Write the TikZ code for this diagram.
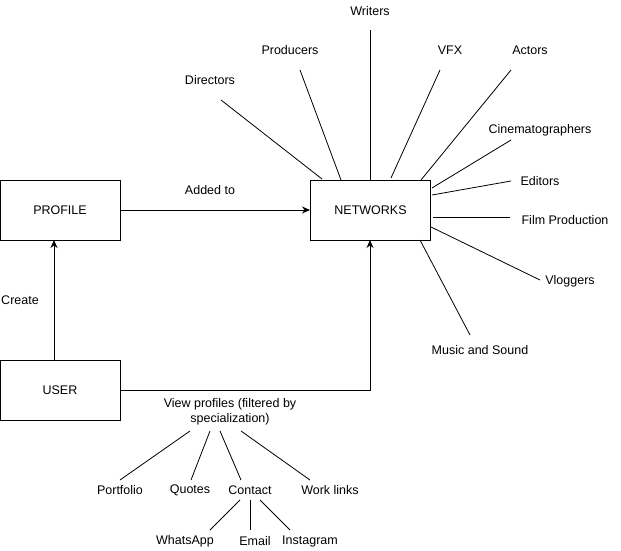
\documentclass[tikz,border=0pt]{standalone}
\usepackage{fontspec}
\setmainfont{Liberation Sans}
\usetikzlibrary{arrows.meta}
\begin{document}
\begin{tikzpicture}[x=1pt,y=-1pt,
  font=\fontsize{12.5}{14.5}\selectfont,
  box/.style={draw,line width=1pt,minimum width=120pt,minimum height=60pt,inner sep=0pt},
  lbl/.style={inner sep=0pt,align=center},
  link/.style={line width=0.8pt},
  flow/.style={line width=1pt,-{Stealth[length=8pt,width=7pt]}}]
\useasboundingbox (0,0) rectangle (621,551);

% main boxes
\node[box] (profile) at (60,210) {PROFILE};
\node[box] (net) at (370.5,210) {NETWORKS};
\node[box] (user) at (60,390) {USER};

% flow between boxes
\coordinate (createS) at (54,360);
\coordinate (createE) at (54,240);
\draw[flow] (createS) -- (createE);
\node[lbl] (create) at (20,300) {Create};

\draw[flow] (profile.east) -- (net.west);
\node[lbl] (added) at (210,190) {Added to};

\coordinate (viewS) at (120,390);
\coordinate (viewE) at (370,240);
\draw[flow] (viewS) -| (viewE);
\node[lbl] (view) at (230,412) {View profiles (filtered by\\specialization)};

% network categories
\node[lbl] (writers) at (370,11) {Writers};
\node[lbl] (producers) at (290,50) {Producers};
\node[lbl] (directors) at (210,80) {Directors};
\node[lbl] (vfx) at (450,50) {VFX};
\node[lbl] (actors) at (530,50) {Actors};
\node[lbl] (cine) at (540,130) {Cinematographers};
\node[lbl] (editors) at (540,181) {Editors};
\node[lbl] (film) at (565,220) {Film Production};
\node[lbl] (vlog) at (570,281) {Vloggers};
\node[lbl] (music) at (480,350) {Music and Sound};

\coordinate (wrA) at (370,180);  \coordinate (wrB) at (370,30);
\coordinate (prA) at (341,180);  \coordinate (prB) at (300,70);
\coordinate (diA) at (322,179);  \coordinate (diB) at (221,100);
\coordinate (vfA) at (391,178);  \coordinate (vfB) at (440,70);
\coordinate (acA) at (421,180);  \coordinate (acB) at (511,70);
\coordinate (ciA) at (432,188);  \coordinate (ciB) at (511,140);
\coordinate (edA) at (432,195);  \coordinate (edB) at (511,181);
\coordinate (fiA) at (433,217);  \coordinate (fiB) at (510,217);
\coordinate (vlA) at (431,227);  \coordinate (vlB) at (540,280);
\coordinate (muA) at (420,240);  \coordinate (muB) at (470,335);
\foreach \s in {wr,pr,di,vf,ac,ci,ed,fi,vl,mu}
  \draw[link] (\s A) -- (\s B);

% profile details
\node[lbl] (portfolio) at (120,490) {Portfolio};
\node[lbl] (quotes) at (190,490) {Quotes};
\node[lbl] (contact) at (250,490) {Contact};
\node[lbl] (work) at (330,490) {Work links};
\node[lbl] (whatsapp) at (185,541) {WhatsApp};
\node[lbl] (email) at (255,541) {Email};
\node[lbl] (insta) at (310,541) {Instagram};

\coordinate (poA) at (190,431); \coordinate (poB) at (120,480);
\coordinate (quA) at (210,431); \coordinate (quB) at (191,480);
\coordinate (coA) at (220,431); \coordinate (coB) at (241,480);
\coordinate (woA) at (241,431); \coordinate (woB) at (310,480);
\coordinate (whA) at (240,500); \coordinate (whB) at (210,530);
\coordinate (emA) at (250,500); \coordinate (emB) at (250,530);
\coordinate (inA) at (260,500); \coordinate (inB) at (290,530);
\foreach \s in {po,qu,co,wo,wh,em,in}
  \draw[link] (\s A) -- (\s B);
\end{tikzpicture}
\end{document}
